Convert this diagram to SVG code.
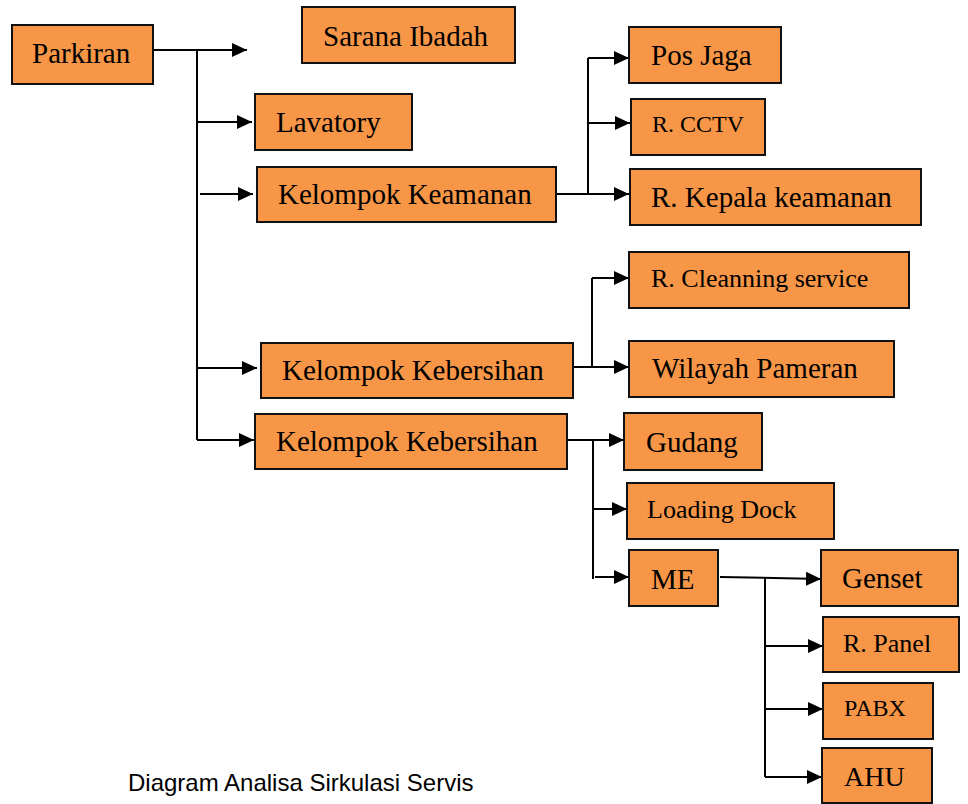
<svg xmlns="http://www.w3.org/2000/svg" width="968" height="804" viewBox="0 0 968 804">
  <style>
    .box { fill: #F79646; stroke: #111; stroke-width: 2; }
    .lbl { font-family: "Liberation Serif", "Times New Roman", serif; font-size: 29px; fill: #000; }
    .sm { font-size: 26px; }
    .xs { font-size: 24px; }
    .wire { fill: none; stroke: #000; stroke-width: 2; }
    .cap { font-family: "Liberation Sans", Arial, sans-serif; font-size: 24px; fill: #000; }
  </style>
  <defs>
    <marker id="arrow" markerUnits="userSpaceOnUse" markerWidth="16" markerHeight="14" refX="15" refY="7" orient="auto">
      <path d="M0,0 L15,7 L0,14 z" fill="#000"/>
    </marker>
  </defs>

  <rect width="968" height="804" fill="#fff"/>

  <!-- connectors -->
  <g id="connectors" class="wire">
    <path d="M153,50 H247" marker-end="url(#arrow)"/>
    <path d="M197,50 V440"/>
    <path d="M197,122 H252" marker-end="url(#arrow)"/>
    <path d="M200,194 H253" marker-end="url(#arrow)"/>
    <path d="M197,368 H257" marker-end="url(#arrow)"/>
    <path d="M197,440 H254" marker-end="url(#arrow)"/>

    <path d="M556,194 H629" marker-end="url(#arrow)"/>
    <path d="M588,194 V58"/>
    <path d="M588,58 H629" marker-end="url(#arrow)"/>
    <path d="M588,123 H630" marker-end="url(#arrow)"/>

    <path d="M571,367 H629" marker-end="url(#arrow)"/>
    <path d="M592,367 V278"/>
    <path d="M592,278 H629" marker-end="url(#arrow)"/>

    <path d="M567,440 H624" marker-end="url(#arrow)"/>
    <path d="M593,440 V579"/>
    <path d="M593,509 H627" marker-end="url(#arrow)"/>
    <path d="M595,577 H629" marker-end="url(#arrow)"/>

    <path d="M720,577 L821,579" marker-end="url(#arrow)"/>
    <path d="M765,577 V777"/>
    <path d="M765,646 H823" marker-end="url(#arrow)"/>
    <path d="M765,709 H823" marker-end="url(#arrow)"/>
    <path d="M765,777 H822" marker-end="url(#arrow)"/>
  </g>

  <!-- nodes -->
  <g id="parkiran"><rect class="box" x="12" y="25" width="141" height="59"/><text class="lbl" x="32" y="63">Parkiran</text></g>
  <g id="sarana-ibadah"><rect class="box" x="302" y="7" width="213" height="56"/><text class="lbl" x="323" y="46">Sarana Ibadah</text></g>
  <g id="lavatory"><rect class="box" x="255" y="94" width="157" height="56"/><text class="lbl" x="276" y="132">Lavatory</text></g>
  <g id="kelompok-keamanan"><rect class="box" x="257" y="167" width="299" height="55"/><text class="lbl" x="278" y="204">Kelompok Keamanan</text></g>
  <g id="pos-jaga"><rect class="box" x="629" y="27" width="152" height="56"/><text class="lbl" x="651" y="65">Pos Jaga</text></g>
  <g id="r-cctv"><rect class="box" x="631" y="99" width="134" height="56"/><text class="lbl xs" x="652" y="132">R. CCTV</text></g>
  <g id="r-kepala-keamanan"><rect class="box" x="630" y="169" width="291" height="56"/><text class="lbl" x="651" y="207">R. Kepala keamanan</text></g>
  <g id="kelompok-kebersihan-1"><rect class="box" x="261" y="343" width="312" height="55"/><text class="lbl" x="282" y="380">Kelompok Kebersihan</text></g>
  <g id="kelompok-kebersihan-2"><rect class="box" x="255" y="414" width="312" height="55"/><text class="lbl" x="276" y="451">Kelompok Kebersihan</text></g>
  <g id="r-cleanning-service"><rect class="box" x="629" y="252" width="280" height="56"/><text class="lbl sm" x="651" y="287">R. Cleanning service</text></g>
  <g id="wilayah-pameran"><rect class="box" x="629" y="341" width="265" height="56"/><text class="lbl" x="652" y="378">Wilayah Pameran</text></g>
  <g id="gudang"><rect class="box" x="624" y="413" width="138" height="57"/><text class="lbl" x="646" y="452">Gudang</text></g>
  <g id="loading-dock"><rect class="box" x="627" y="483" width="207" height="56"/><text class="lbl sm" x="647" y="518">Loading Dock</text></g>
  <g id="me"><rect class="box" x="629" y="550" width="89" height="56"/><text class="lbl" x="651" y="589">ME</text></g>
  <g id="genset"><rect class="box" x="821" y="550" width="137" height="56"/><text class="lbl" x="842" y="588">Genset</text></g>
  <g id="r-panel"><rect class="box" x="823" y="617" width="136" height="55"/><text class="lbl sm" x="843" y="652">R. Panel</text></g>
  <g id="pabx"><rect class="box" x="823" y="683" width="110" height="56"/><text class="lbl xs" x="844" y="716">PABX</text></g>
  <g id="ahu"><rect class="box" x="822" y="748" width="110" height="55"/><text class="lbl" x="844" y="786" style="font-size:28px">AHU</text></g>

  <text class="cap" x="128" y="791">Diagram Analisa Sirkulasi Servis</text>
</svg>
